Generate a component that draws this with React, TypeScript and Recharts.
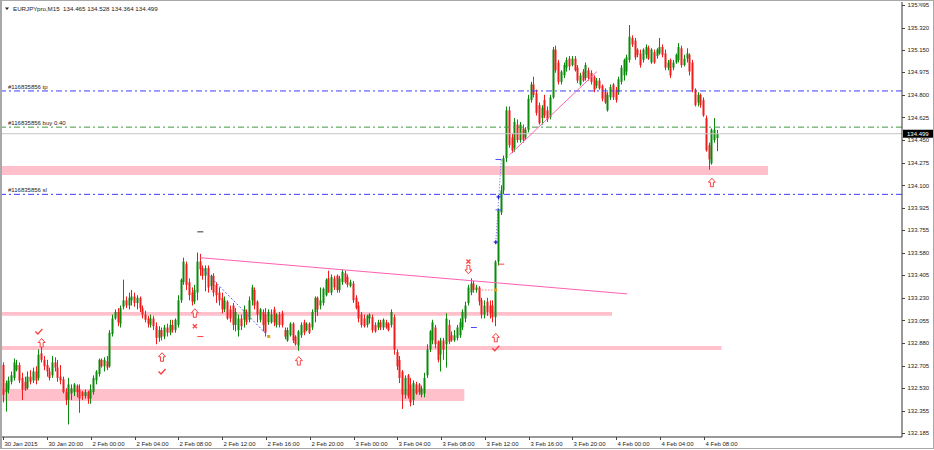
import { ComposedChart, Bar, XAxis, YAxis, ReferenceLine, ReferenceArea, ReferenceDot } from 'recharts';

const FONT = '"Liberation Sans", Arial, sans-serif';
const GREEN = '#0b8a0b';
const RED = '#f21c1c';

const symbolTitle = 'EURJPYpro,M15';

// M15 bars, first one is 30 Jan 16:00
const opens = [
  132.71, 132.50, 132.52, 132.58, 132.61, 132.67, 132.71, 132.61, 132.58, 132.53,
  132.62, 132.59, 132.66, 132.61, 132.80, 132.75, 132.71, 132.66, 132.63, 132.73,
  132.69, 132.62, 132.60, 132.50, 132.44, 132.49, 132.50, 132.55, 132.52, 132.50,
  132.47, 132.50, 132.45, 132.50, 132.59, 132.64, 132.75, 132.70, 132.74, 132.70,
  132.95, 133.07, 133.12, 133.03, 133.16, 133.21, 133.17, 133.21, 133.24, 133.19,
  133.23, 133.15, 133.10, 133.07, 133.02, 133.07, 133.01, 132.92, 132.98, 132.93,
  133.00, 132.96, 133.02, 132.98, 133.02, 133.21, 133.35, 133.49, 133.35, 133.27,
  133.20, 133.27, 133.51, 133.46, 133.40, 133.46, 133.32, 133.40, 133.33, 133.27,
  133.23, 133.14, 133.20, 133.14, 133.17, 133.02, 132.98, 133.07, 133.06, 133.12,
  133.06, 133.21, 133.29, 133.20, 133.06, 133.12, 133.10, 133.04, 133.04, 133.14,
  133.02, 133.10, 133.11, 132.98, 132.90, 132.94, 133.03, 132.93, 132.86, 132.94,
  133.04, 132.98, 133.03, 133.00, 133.12, 133.23, 133.17, 133.19, 133.25, 133.38,
  133.27, 133.38, 133.40, 133.29, 133.35, 133.42, 133.39, 133.32, 133.34, 133.23,
  133.17, 133.10, 133.07, 133.02, 133.07, 133.08, 133.02, 133.00, 133.04, 133.00,
  133.04, 133.03, 133.02, 133.08, 132.81, 132.75, 132.66, 132.48, 132.63, 132.56,
  132.44, 132.56, 132.56, 132.48, 132.49, 132.63, 132.83, 132.90, 133.00, 132.89,
  132.79, 132.90, 132.87, 133.02, 132.94, 132.90, 132.92, 132.94, 133.00, 133.07,
  133.19, 133.27, 133.34, 133.29, 133.31, 133.21, 133.10, 133.20, 133.17, 133.17,
  133.08, 133.51, 133.89, 134.06, 134.31, 134.68, 134.47, 134.39, 134.57, 134.45,
  134.54, 134.47, 134.53, 134.76, 134.88, 134.81, 134.72, 134.62, 134.76, 134.68,
  134.63, 134.78, 135.15, 135.05, 134.90, 134.95, 135.01, 135.08, 135.03, 135.08,
  135.01, 134.88, 134.98, 134.93, 134.99, 134.97, 134.94, 134.87, 134.91, 134.87,
  134.82, 134.68, 134.78, 134.88, 134.84, 134.82, 134.90, 134.95, 134.98, 135.07,
  135.24, 135.22, 135.15, 135.12, 135.07, 135.11, 135.16, 135.05, 135.13, 135.10,
  135.12, 135.17, 135.12, 135.01, 135.07, 135.01, 135.05, 135.07, 135.16, 135.03,
  135.08, 135.11, 135.05, 134.84, 134.74, 134.80, 134.76, 134.62, 134.41, 134.27,
  134.45, 134.465,
];

const highs = [
  132.73, 132.59, 132.62, 132.66, 132.76, 132.75, 132.73, 132.65, 132.62, 132.66,
  132.67, 132.69, 132.70, 132.83, 132.85, 132.78, 132.75, 132.69, 132.78, 132.77,
  132.75, 132.71, 132.62, 132.53, 132.61, 132.56, 132.57, 132.56, 132.56, 132.51,
  132.52, 132.51, 132.56, 132.63, 132.67, 132.76, 132.76, 132.77, 132.78, 132.98,
  133.10, 133.14, 133.15, 133.17, 133.37, 133.24, 133.27, 133.29, 133.27, 133.25,
  133.24, 133.17, 133.13, 133.09, 133.10, 133.09, 133.04, 133.01, 133.00, 133.02,
  133.03, 133.06, 133.06, 133.07, 133.25, 133.38, 133.54, 133.51, 133.38, 133.31,
  133.33, 133.58, 133.57, 133.48, 133.48, 133.48, 133.41, 133.42, 133.35, 133.31,
  133.27, 133.24, 133.21, 133.17, 133.19, 133.15, 133.10, 133.10, 133.17, 133.14,
  133.24, 133.33, 133.31, 133.21, 133.15, 133.14, 133.15, 133.14, 133.14, 133.16,
  133.11, 133.12, 133.13, 133.00, 133.00, 133.04, 133.04, 132.94, 132.98, 133.04,
  133.06, 133.04, 133.04, 133.14, 133.24, 133.24, 133.31, 133.31, 133.38, 133.44,
  133.41, 133.40, 133.41, 133.40, 133.45, 133.44, 133.41, 133.37, 133.36, 133.25,
  133.20, 133.12, 133.10, 133.10, 133.11, 133.10, 133.04, 133.06, 133.06, 133.07,
  133.06, 133.04, 133.14, 133.10, 132.83, 132.78, 132.67, 132.63, 132.64, 132.61,
  132.59, 132.58, 132.57, 132.55, 132.65, 132.87, 132.98, 133.06, 133.02, 132.90,
  132.92, 132.92, 133.11, 133.06, 132.97, 132.98, 133.02, 133.07, 133.14, 133.20,
  133.33, 133.38, 133.36, 133.33, 133.32, 133.23, 133.21, 133.23, 133.21, 133.21,
  133.52, 133.92, 134.10, 134.33, 134.71, 134.71, 134.50, 134.62, 134.61, 134.59,
  134.57, 134.55, 134.80, 134.90, 134.94, 134.84, 134.74, 134.72, 134.80, 134.71,
  134.80, 135.17, 135.18, 135.07, 134.99, 135.05, 135.09, 135.10, 135.10, 135.10,
  135.03, 134.97, 135.00, 135.05, 135.01, 134.99, 134.95, 134.93, 134.93, 134.88,
  134.85, 134.82, 134.88, 134.89, 134.86, 134.94, 135.03, 135.08, 135.11, 135.34,
  135.26, 135.24, 135.16, 135.15, 135.16, 135.19, 135.18, 135.16, 135.15, 135.16,
  135.24, 135.19, 135.15, 135.07, 135.08, 135.07, 135.12, 135.20, 135.18, 135.11,
  135.16, 135.12, 135.07, 134.85, 134.82, 134.81, 134.78, 134.64, 134.43, 134.54,
  134.62, 134.528,
];

const lows = [
  132.42, 132.35, 132.49, 132.56, 132.59, 132.66, 132.57, 132.44, 132.51, 132.52,
  132.56, 132.57, 132.56, 132.59, 132.73, 132.67, 132.62, 132.59, 132.61, 132.66,
  132.58, 132.56, 132.49, 132.40, 132.25, 132.44, 132.47, 132.46, 132.34, 132.44,
  132.45, 132.41, 132.41, 132.48, 132.56, 132.62, 132.69, 132.66, 132.67, 132.69,
  132.93, 133.06, 133.01, 133.00, 133.14, 133.15, 133.14, 133.17, 133.16, 133.14,
  133.12, 133.07, 133.04, 133.00, 133.00, 132.98, 132.87, 132.89, 132.90, 132.91,
  132.93, 132.94, 132.96, 132.96, 133.00, 133.19, 133.33, 133.29, 133.21, 133.17,
  133.18, 133.21, 133.40, 133.37, 133.28, 133.27, 133.29, 133.24, 133.19, 133.17,
  133.11, 133.12, 133.06, 133.04, 132.98, 132.97, 132.93, 132.98, 133.00, 133.02,
  133.04, 133.17, 133.14, 133.04, 133.04, 132.97, 132.93, 133.02, 133.03, 133.01,
  133.00, 133.00, 133.00, 132.91, 132.89, 132.93, 132.88, 132.86, 132.82, 132.92,
  132.94, 132.97, 132.95, 132.98, 133.04, 133.09, 133.14, 133.17, 133.24, 133.27,
  133.25, 133.29, 133.27, 133.27, 133.33, 133.34, 133.31, 133.31, 133.19, 133.14,
  133.04, 133.00, 133.00, 133.00, 133.03, 132.96, 132.96, 132.98, 132.98, 132.98,
  132.99, 132.97, 133.00, 132.79, 132.67, 132.57, 132.37, 132.45, 132.45, 132.39,
  132.40, 132.48, 132.48, 132.46, 132.46, 132.61, 132.81, 132.87, 132.84, 132.73,
  132.66, 132.75, 132.69, 132.87, 132.89, 132.89, 132.90, 132.92, 132.98, 133.04,
  133.17, 133.25, 133.27, 133.27, 133.17, 133.07, 133.07, 133.09, 133.07, 133.04,
  133.01, 133.48, 133.87, 134.03, 134.28, 134.39, 134.35, 134.36, 134.43, 134.43,
  134.43, 134.45, 134.51, 134.74, 134.78, 134.64, 134.57, 134.57, 134.62, 134.59,
  134.61, 134.77, 134.97, 134.88, 134.88, 134.93, 134.98, 134.99, 135.02, 134.98,
  134.89, 134.87, 134.90, 134.91, 134.91, 134.88, 134.82, 134.85, 134.84, 134.75,
  134.73, 134.67, 134.76, 134.76, 134.74, 134.80, 134.88, 134.91, 134.95, 135.05,
  135.17, 135.07, 135.09, 135.01, 135.05, 135.08, 135.07, 135.04, 135.04, 135.08,
  135.11, 135.09, 134.99, 134.99, 134.93, 134.99, 135.04, 135.05, 135.01, 135.02,
  135.05, 134.95, 134.82, 134.71, 134.71, 134.70, 134.63, 134.36, 134.22, 134.26,
  134.43, 134.364,
];

const closes = [
  132.48, 132.57, 132.59, 132.63, 132.73, 132.71, 132.59, 132.52, 132.52, 132.62,
  132.58, 132.66, 132.59, 132.79, 132.75, 132.70, 132.66, 132.61, 132.73, 132.69,
  132.61, 132.59, 132.50, 132.44, 132.56, 132.53, 132.56, 132.50, 132.45, 132.47,
  132.50, 132.45, 132.52, 132.61, 132.66, 132.75, 132.70, 132.75, 132.69, 132.96,
  133.07, 133.12, 133.04, 133.15, 133.21, 133.17, 133.23, 133.24, 133.19, 133.23,
  133.15, 133.10, 133.06, 133.03, 133.07, 133.01, 132.92, 132.98, 132.93, 133.00,
  132.96, 133.02, 132.98, 133.06, 133.21, 133.37, 133.51, 133.33, 133.25, 133.20,
  133.29, 133.51, 133.45, 133.40, 133.46, 133.31, 133.40, 133.27, 133.25, 133.21,
  133.14, 133.21, 133.07, 133.07, 133.02, 133.12, 133.07, 133.01, 133.14, 133.04,
  133.21, 133.31, 133.17, 133.10, 133.14, 133.02, 132.96, 133.12, 133.10, 133.04,
  133.10, 133.02, 133.02, 132.93, 132.98, 133.03, 132.90, 132.87, 132.97, 133.02,
  132.96, 133.03, 132.96, 133.12, 133.23, 133.14, 133.21, 133.30, 133.37, 133.27,
  133.39, 133.31, 133.29, 133.38, 133.43, 133.35, 133.33, 133.35, 133.21, 133.15,
  133.07, 133.02, 133.01, 133.09, 133.10, 132.98, 132.97, 133.04, 133.00, 133.06,
  133.00, 132.98, 133.12, 132.83, 132.70, 132.61, 132.48, 132.61, 132.47, 132.42,
  132.57, 132.49, 132.50, 132.53, 132.61, 132.83, 132.97, 133.04, 132.87, 132.75,
  132.90, 132.83, 133.07, 132.89, 132.90, 132.94, 133.00, 133.04, 133.12, 133.17,
  133.31, 133.34, 133.29, 133.31, 133.20, 133.10, 133.17, 133.12, 133.11, 133.08,
  133.51, 133.91, 134.06, 134.31, 134.68, 134.41, 134.37, 134.59, 134.45, 134.57,
  134.45, 134.53, 134.77, 134.88, 134.80, 134.66, 134.58, 134.70, 134.64, 134.61,
  134.78, 135.15, 134.99, 134.90, 134.98, 135.03, 135.07, 135.02, 135.08, 134.99,
  134.91, 134.95, 134.91, 135.03, 134.93, 134.90, 134.84, 134.91, 134.85, 134.77,
  134.74, 134.80, 134.86, 134.78, 134.76, 134.92, 135.01, 135.07, 135.09, 135.25,
  135.19, 135.09, 135.11, 135.03, 135.15, 135.17, 135.08, 135.15, 135.05, 135.15,
  135.17, 135.11, 135.01, 135.05, 134.95, 135.05, 135.11, 135.17, 135.03, 135.08,
  135.12, 134.98, 134.84, 134.72, 134.80, 134.72, 134.64, 134.37, 134.30, 134.53,
  134.53, 134.499,
];

const tickBars = [0, 16, 32, 48, 64, 80, 96, 112, 128, 144, 160, 176, 192, 208, 224, 240, 256];
const tickLabels = [
  '30 Jan 2015', '30 Jan 20:00', '2 Feb 00:00', '2 Feb 04:00', '2 Feb 08:00', '2 Feb 12:00',
  '2 Feb 16:00', '2 Feb 20:00', '3 Feb 00:00', '3 Feb 04:00', '3 Feb 08:00', '3 Feb 12:00',
  '3 Feb 16:00', '3 Feb 20:00', '4 Feb 00:00', '4 Feb 04:00', '4 Feb 08:00',
];

const priceTicks = [
  135.495, 135.32, 135.15, 134.975, 134.8, 134.625, 134.45, 134.275, 134.1, 133.925,
  133.755, 133.58, 133.405, 133.23, 133.055, 132.88, 132.705, 132.53, 132.355, 132.185,
];

// empty slots on the right (chart shift)
const slotCount = 329;

const zones = [
  { from: 0, to: 279, low: 134.18, high: 134.25 },
  { from: 0, to: 222, low: 133.09, high: 133.12 },
  { from: 0, to: 262, low: 132.826, high: 132.857 },
  { from: 0, to: 168, low: 132.432, high: 132.525 },
];

const orderLines = [
  { name: '#116835856 tp', price: 134.83, color: '#3b3bff' },
  { name: '#116835856 buy 0.40', price: 134.55, color: '#3f9a3f' },
  { name: '#116835856 sl', price: 134.03, color: '#3b3bff' },
];

const trendLines = [
  { x1: 72, p1: 133.54, x2: 228, p2: 133.26, color: '#ff5fb2', dash: '' },
  { x1: 185, p1: 134.335, x2: 217, p2: 134.98, color: '#ff5fb2', dash: '' },
  { x1: 73, p1: 133.45, x2: 97, p2: 132.93, color: '#5a5aff', dash: '2 2' },
  { x1: 180, p1: 133.66, x2: 182, p2: 134.3, color: '#5a5aff', dash: '1 2' },
  { x1: 174, p1: 133.29, x2: 180, p2: 133.29, color: '#ff4040', dash: '1 2' },
];

const signals = [
  { i: 13, p: 132.97, kind: 'check' },
  { i: 14, p: 132.88, kind: 'up' },
  { i: 58, p: 132.77, kind: 'up' },
  { i: 58, p: 132.66, kind: 'check' },
  { i: 70, p: 133.11, kind: 'up' },
  { i: 70, p: 133.01, kind: 'cross' },
  { i: 72, p: 132.93, kind: 'dashRed' },
  { i: 72, p: 133.74, kind: 'dashDark' },
  { i: 97, p: 132.93, kind: 'square' },
  { i: 108, p: 132.74, kind: 'up' },
  { i: 170, p: 133.51, kind: 'cross' },
  { i: 170, p: 133.45, kind: 'down' },
  { i: 172, p: 133.0, kind: 'dashBlue' },
  { i: 180, p: 133.29, kind: 'square' },
  { i: 180, p: 133.66, kind: 'plus' },
  { i: 181, p: 134.01, kind: 'plus' },
  { i: 181, p: 133.91, kind: 'dashBlue' },
  { i: 181, p: 134.3, kind: 'dashBlue' },
  { i: 182, p: 133.49, kind: 'dashRed' },
  { i: 180, p: 132.92, kind: 'up' },
  { i: 180, p: 132.84, kind: 'check' },
  { i: 259, p: 134.12, kind: 'up' },
];

const rows = Array.from({ length: slotCount }, (_, i) =>
  i < closes.length
    ? { i, o: opens[i], h: highs[i], l: lows[i], c: closes[i], range: [lows[i], highs[i]] }
    : { i, range: null }
);

const lastClose = closes[closes.length - 1];

function Candle(props: any) {
  const { x, y, width, height, payload } = props;
  if (!payload || payload.o == null || !Number.isFinite(y)) return null;
  const { o, h, l, c } = payload;
  const span = h - l || 1;
  const yOf = (v: number) => y + ((h - v) / span) * height;
  const cx = Math.round(x + width / 2 - 0.5);
  const col = c >= o ? GREEN : RED;
  const top = Math.min(yOf(o), yOf(c));
  const bot = Math.max(yOf(o), yOf(c));
  return (
    <g>
      <line x1={cx + 0.5} x2={cx + 0.5} y1={y} y2={y + height} stroke={col} strokeWidth={1} />
      <rect x={cx - 0.5} y={top} width={2} height={Math.max(bot - top, 1)} fill={col} />
    </g>
  );
}

function XTick(props: any) {
  const { x, payload } = props;
  const k = tickBars.indexOf(payload.value);
  const px = Math.round(x);
  return (
    <g>
      <line x1={px + 0.5} x2={px + 0.5} y1={437} y2={440} stroke="#444" />
      <text x={px + 1.5} y={446} fontSize={6} fontFamily={FONT} fill="#222">
        {tickLabels[k]}
      </text>
    </g>
  );
}

function YTick(props: any) {
  const { y, payload } = props;
  const py = Math.round(y) + 0.5;
  return (
    <g>
      <line x1={902} x2={905} y1={py} y2={py} stroke="#444" />
      <text x={907.5} y={y + 2.2} fontSize={6} fontFamily={FONT} fill="#222">
        {Number(payload.value).toFixed(3)}
      </text>
    </g>
  );
}

function Glyph({ kind, cx, cy }: { kind: string; cx: number; cy: number }) {
  const sr = '#ff4040';
  switch (kind) {
    case 'up':
      return (
        <path
          d={`M${cx},${cy - 4.5} L${cx + 3.5},${cy - 0.5} L${cx + 1.5},${cy - 0.5} L${cx + 1.5},${cy + 4} L${cx - 1.5},${cy + 4} L${cx - 1.5},${cy - 0.5} L${cx - 3.5},${cy - 0.5} Z`}
          fill="#fff"
          stroke={sr}
          strokeWidth={1}
        />
      );
    case 'down':
      return (
        <path
          d={`M${cx},${cy + 4.5} L${cx + 3.5},${cy + 0.5} L${cx + 1.5},${cy + 0.5} L${cx + 1.5},${cy - 4} L${cx - 1.5},${cy - 4} L${cx - 1.5},${cy + 0.5} L${cx - 3.5},${cy + 0.5} Z`}
          fill="#fff"
          stroke={sr}
          strokeWidth={1}
        />
      );
    case 'check':
      return <path d={`M${cx - 3.5},${cy} L${cx - 1},${cy + 2.5} L${cx + 3.5},${cy - 2.5}`} fill="none" stroke={sr} strokeWidth={1.4} />;
    case 'cross':
      return (
        <path
          d={`M${cx - 2},${cy - 2} L${cx + 2},${cy + 2} M${cx - 2},${cy + 2} L${cx + 2},${cy - 2}`}
          stroke={sr}
          strokeWidth={1.3}
        />
      );
    case 'dashRed':
      return <line x1={cx - 3} x2={cx + 3} y1={cy} y2={cy} stroke={sr} strokeWidth={1} />;
    case 'dashDark':
      return <line x1={cx - 3} x2={cx + 3} y1={cy} y2={cy} stroke="#333" strokeWidth={1} />;
    case 'dashBlue':
      return <line x1={cx - 3} x2={cx + 3} y1={cy} y2={cy} stroke="#4a4aff" strokeWidth={1} />;
    case 'plus':
      return (
        <path d={`M${cx - 2},${cy} L${cx + 2},${cy} M${cx},${cy - 2} L${cx},${cy + 2}`} stroke="#2020e0" strokeWidth={1.3} />
      );
    case 'square':
      return <rect x={cx - 1.5} y={cy - 1.5} width={3} height={3} fill="#e0a020" />;
    default:
      return null;
  }
}

export default function App() {
  return (
    <div style={{ position: 'absolute', left: 0, top: 0, width: 934, height: 450, background: '#fff' }}>
      <ComposedChart width={934} height={450} data={rows} margin={{ top: 2, right: 0, bottom: 0, left: 2 }}>
        {zones.map((z, k) => (
          <ReferenceArea
            key={`z${k}`}
            x1={z.from}
            x2={z.to}
            y1={z.low}
            y2={z.high}
            fill="#ffc0cb"
            fillOpacity={1}
            stroke="none"
            ifOverflow="visible"
          />
        ))}
        <XAxis
          dataKey="i"
          type="category"
          height={13}
          ticks={tickBars}
          interval={0}
          tickLine={false}
          tickSize={3}
          axisLine={{ stroke: '#333' }}
          tick={<XTick />}
        />
        <YAxis
          orientation="right"
          type="number"
          width={32}
          domain={[132.153, 135.518]}
          allowDataOverflow
          ticks={priceTicks}
          interval={0}
          tickLine={false}
          axisLine={{ stroke: '#333' }}
          tick={<YTick />}
        />
        <ReferenceLine y={lastClose} stroke="#c4c4c4" strokeWidth={1} ifOverflow="visible" />
        {orderLines.map((ln) => (
          <ReferenceLine
            key={ln.name}
            y={ln.price}
            stroke={ln.color}
            strokeWidth={1}
            strokeDasharray="6 3 2 3"
            label={(p: any) => (
              <text x={p.viewBox.x + 6} y={p.viewBox.y - 2} fontSize={6} fontFamily={FONT} fill="#222">
                {ln.name}
              </text>
            )}
          />
        ))}
        <Bar dataKey="range" isAnimationActive={false} shape={<Candle />} />
        {trendLines.map((t, k) => (
          <ReferenceLine
            key={`t${k}`}
            segment={[
              { x: t.x1, y: t.p1 },
              { x: t.x2, y: t.p2 },
            ]}
            stroke={t.color}
            strokeWidth={1}
            strokeDasharray={t.dash || undefined}
            ifOverflow="visible"
          />
        ))}
        {signals.map((s, k) => (
          <ReferenceDot
            key={`s${k}`}
            x={s.i}
            y={s.p}
            r={0}
            ifOverflow="visible"
            shape={(p: any) => <Glyph kind={s.kind} cx={p.cx} cy={p.cy} />}
          />
        ))}
        <ReferenceLine
          y={lastClose}
          stroke="none"
          ifOverflow="visible"
          label={(p: any) => (
            <g>
              <rect x={p.viewBox.x + p.viewBox.width + 1} y={p.viewBox.y - 4} width={30} height={8} fill="#000" />
              <text x={p.viewBox.x + p.viewBox.width + 5} y={p.viewBox.y + 2.2} fontSize={6} fontFamily={FONT} fill="#fff">
                {lastClose.toFixed(3)}
              </text>
            </g>
          )}
        />
      </ComposedChart>
      <svg width={934} height={450} style={{ position: 'absolute', left: 0, top: 0, pointerEvents: 'none' }}>
        <rect x={0.5} y={0.5} width={933} height={448} fill="none" stroke="#a8a8a8" />
        <line x1={1.5} x2={1.5} y1={0} y2={449} stroke="#a8a8a8" />
        <polygon points="5,7.5 9,7.5 7,10" fill="#222" />
        <text x={13} y={10.5} fontSize={6.2} fontFamily={FONT} fill="#222" style={{ whiteSpace: 'pre' }}>
          {`${symbolTitle}  ${opens[opens.length - 1].toFixed(3)} ${highs[highs.length - 1].toFixed(3)} ${lows[lows.length - 1].toFixed(3)} ${lastClose.toFixed(3)}`}
        </text>
        <polygon points="918,3 924,3 921,7" fill="#b0b0b0" />
      </svg>
    </div>
  );
}
